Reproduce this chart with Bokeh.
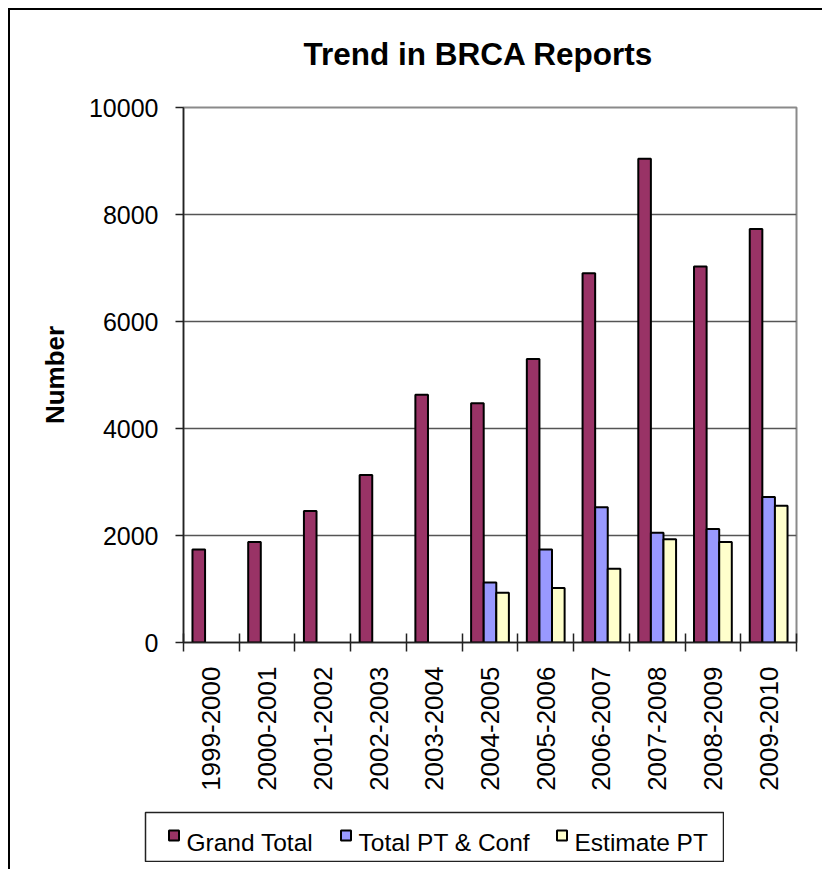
import math
import numpy as np
from bokeh.plotting import figure
from bokeh.layouts import column, row
from bokeh.models import (FixedTicker, Range1d, ColumnDataSource, Label, Spacer)
from bokeh.core.properties import value
from bokeh.embed import file_html
from bokeh.resources import INLINE

nan = float("nan")

# ---- data ----
categories = ["1999-2000", "2000-2001", "2001-2002", "2002-2003", "2003-2004",
              "2004-2005", "2005-2006", "2006-2007", "2007-2008", "2008-2009",
              "2009-2010"]
grand_total = [1740, 1880, 2460, 3130, 4630, 4470, 5300, 6900, 9040, 7030, 7730]
total_pt_conf = [nan, nan, nan, nan, nan, 1120, 1740, 2530, 2050, 2120, 2720]
estimate_pt = [nan, nan, nan, nan, nan, 930, 1020, 1380, 1930, 1880, 2555]
series_names = ["Grand Total", "Total PT & Conf", "Estimate PT"]
series_colors = ["#993366", "#9999FF", "#FFFFCC"]
y_ticks = [0, 2000, 4000, 6000, 8000, 10000]
title_text = "Trend in BRCA Reports"
y_label = "Number"

FONT = "Liberation Sans"
n = len(categories)
idx = np.arange(n)
bar_w = 0.226
offsets = [-bar_w, 0.0, bar_w]

# legend strip layout (pixels inside the legend box)
LEG_W, LEG_H = 578, 49
swatch_x = [28.5, 200.5, 416.5]
label_x = [41, 213, 429]


def bare_strip(w, h, left=0, right=0, top=0, bottom=0, xr=(0, 1), yr=(0, 1)):
    f = figure(width=w, height=h, output_backend="svg", toolbar_location=None,
               x_axis_location=None, y_axis_location=None,
               x_range=Range1d(*xr), y_range=Range1d(*yr),
               min_border_left=left, min_border_right=right,
               min_border_top=top, min_border_bottom=bottom)
    f.grid.visible = False
    f.outline_line_color = None
    f.background_fill_color = "white"
    f.border_fill_color = "white"
    return f


# ---------------- title strip ----------------
tf = bare_strip(812, 80, left=173, right=26)
tf.add_layout(Label(x=295, y=37, x_units="screen", y_units="screen",
                    text=title_text, text_font=FONT, text_font_style="bold",
                    text_font_size="31.5px", text_align="center",
                    text_baseline="alphabetic", text_color="black"))

# ---------------- main chart ----------------
p = figure(width=812, height=721, output_backend="svg", toolbar_location=None,
           x_range=Range1d(-0.5, n - 0.5), y_range=Range1d(0, 10000),
           min_border_left=173, min_border_top=17, min_border_right=26,
           min_border_bottom=169)
p.background_fill_color = "white"
p.border_fill_color = "white"
p.outline_line_color = "#8a8a8a"
p.outline_line_width = 2

for vals, off, col in zip([grand_total, total_pt_conf, estimate_pt], offsets, series_colors):
    src = ColumnDataSource(dict(x=idx + off, top=vals))
    p.vbar(x="x", top="top", width=bar_w, bottom=0, source=src,
           fill_color=col, line_color="black", line_width=2)

p.xgrid.visible = False
p.ygrid.grid_line_color = "#555555"
p.ygrid.grid_line_width = 1.5
p.ygrid.ticker = FixedTicker(ticks=y_ticks)

yax = p.yaxis[0]
yax.ticker = FixedTicker(ticks=y_ticks)
yax.axis_line_color = "#222222"
yax.axis_line_width = 1.5
yax.major_tick_line_color = "#222222"
yax.major_tick_line_width = 1.5
yax.major_tick_out = 8
yax.major_tick_in = 0
yax.minor_tick_line_color = None
yax.major_label_standoff = 17
yax.major_label_text_font = FONT
yax.major_label_text_font_size = "25px"
yax.major_label_text_color = "black"
yax.axis_label = y_label
yax.axis_label_text_font = FONT
yax.axis_label_text_font_style = "bold"
yax.axis_label_text_font_size = "26px"
yax.axis_label_text_color = "black"
yax.axis_label_standoff = 16

xax = p.xaxis[0]
xax.ticker = FixedTicker(ticks=list(range(n)),
                         minor_ticks=[i - 0.5 for i in range(n + 1)])
xax.major_label_overrides = {i: c for i, c in enumerate(categories)}
xax.major_label_orientation = math.pi / 2
xax.major_label_text_font = FONT
xax.major_label_text_font_size = "26px"
xax.major_label_text_color = "black"
xax.major_label_standoff = 15
xax.major_tick_in = 0
xax.major_tick_out = 0
xax.major_tick_line_color = None
xax.minor_tick_in = 9
xax.minor_tick_out = 9
xax.minor_tick_line_color = "#222222"
xax.minor_tick_line_width = 1.5
xax.axis_line_color = "#222222"
xax.axis_line_width = 1.5

# ---------------- legend strip ----------------
lg = bare_strip(LEG_W + 2, LEG_H + 2, left=1, right=1, top=1, bottom=1,
                xr=(0, LEG_W), yr=(0, LEG_H))
lg.outline_line_color = "#222222"
lg.outline_line_width = 1.5

leg_src = ColumnDataSource(dict(sx=swatch_x, lx=label_x, name=series_names,
                                color=series_colors,
                                sy=[LEG_H / 2 + 1.5] * len(series_names),
                                ly=[LEG_H / 2 - 5.5] * len(series_names)))
lg.scatter(x="sx", y="sy", marker="square", size=10, fill_color="color",
           line_color="black", line_width=2, source=leg_src)
lg.text(x="lx", y="ly", text="name", source=leg_src,
        text_font=value(FONT), text_font_size="24.5px", text_color="black",
        text_align="left", text_baseline="alphabetic")

layout = column(
    tf,
    p,
    row(Spacer(width=134, height=LEG_H + 2), lg),
    Spacer(width=812, height=7),
    styles={"margin-left": "8px", "margin-top": "8px",
            "border-left": "2px solid black", "border-top": "2px solid black"},
)

open("out.html", "w").write(file_html(layout, INLINE))
